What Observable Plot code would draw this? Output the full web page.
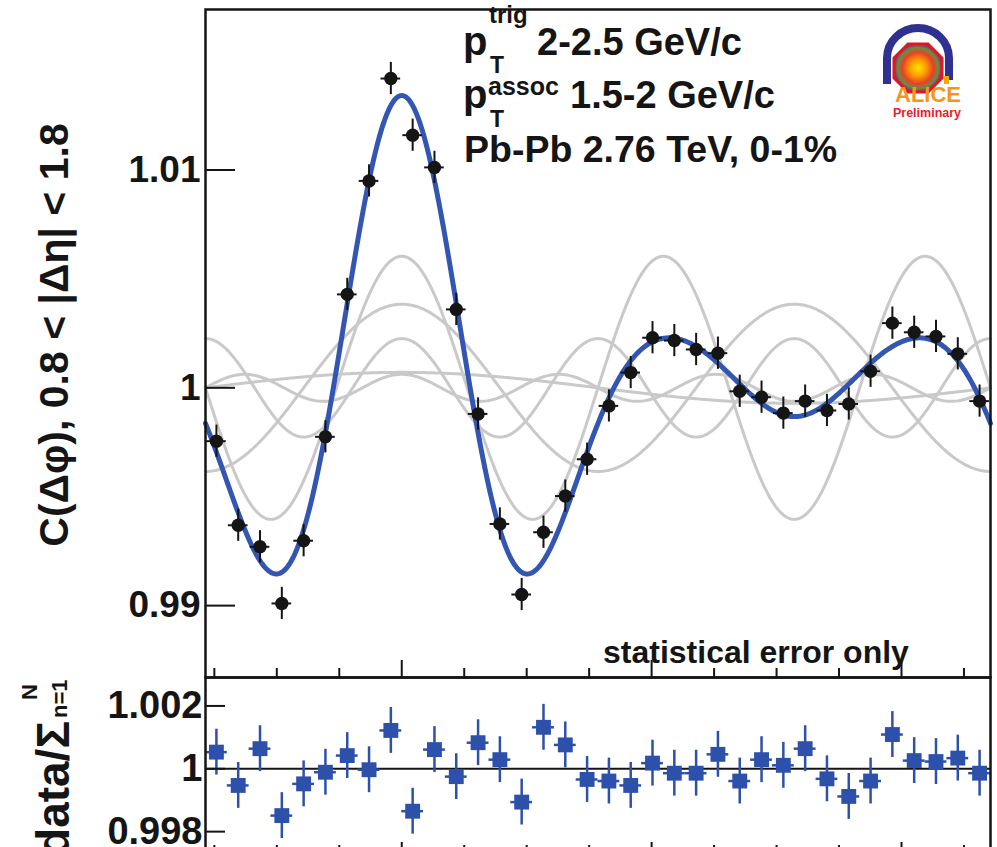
<!DOCTYPE html>
<html><head><meta charset="utf-8">
<script src="https://cdn.jsdelivr.net/npm/d3@7"></script>
<script src="https://cdn.jsdelivr.net/npm/@observablehq/plot@0.6"></script>
<style>
html,body{margin:0;padding:0;background:#fff;}
#wrap{position:relative;width:997px;height:847px;overflow:hidden;background:#fff;}
#wrap > svg{position:absolute;left:0;}
</style></head><body><div id="wrap"></div>
<script>
const FONT = "'Liberation Sans', Arial, Helvetica, sans-serif";

// Δφ bin centres (rad), 36 bins over [-π/2, 3π/2]
const phiBins = [-1.4835,-1.3090,-1.1345,-0.9599,-0.7854,-0.6109,-0.4363,-0.2618,-0.0873,0.0873,0.2618,0.4363,0.6109,0.7854,0.9599,1.1345,1.3090,1.4835,1.6581,1.8326,2.0071,2.1817,2.3562,2.5307,2.7053,2.8798,3.0543,3.2289,3.4034,3.5779,3.7525,3.9270,4.1015,4.2761,4.4506,4.6251];
// C(Δφ) data points
const dataC = [0.99755,0.99369,0.99270,0.99010,0.99298,0.99775,1.00429,1.00950,1.01420,1.01160,1.01012,1.00360,0.99880,0.99375,0.99051,0.99337,0.99503,0.99672,0.99917,1.00070,1.00230,1.00217,1.00176,1.00159,0.99984,0.99957,0.99884,0.99939,0.99896,0.99926,1.00076,1.00297,1.00255,1.00236,1.00156,0.99939];
const dataErr = 0.00074;
// ratio data / Σ harmonics
const ratio = [1.00053,0.99947,1.00064,0.99851,0.99952,0.99989,1.00042,0.99997,1.00122,0.99865,1.00061,0.99975,1.00083,1.00029,0.99894,1.00132,1.00076,0.99966,0.99961,0.99947,1.00018,0.99986,0.99986,1.00046,0.99961,1.00029,1.00011,1.00064,0.99968,0.99912,0.99961,1.00109,1.00026,1.00023,1.00034,0.99986];
const ratioErr = 0.00073;
const harmonicN = [1,2,3,4,5];
const harmonicAmp = [0.00071,0.00384,0.00604,0.00226,0.00062];
const fitBaseline = 0.99995;
// axes
const xDomain = [-Math.PI/2, 3*Math.PI/2];
const xTicksMajor = [0,2,4];
const xTicksMinor = [-1.5,-1,-0.5,0.5,1,1.5,2.5,3,3.5,4.5];
const yTopDomain = [0.98670, 1.01737];
const yTopTicks = [0.99,1,1.01];
const yTopTickLabels = ["0.99","1","1.01"];
const yBotDomain = [0.997304, 1.002905];
const yBotTicks = [0.998,1,1.002];
const yBotTickLabels = ["0.998","1","1.002"];

const binWidth = 2*Math.PI/phiBins.length;
const BLUE = "#3456b3";
const SQBLUE = "#2d50aa";
const GREY = "#c9c9c9";
const INK = "#151515";

const pts = phiBins.map((p,i)=>({phi:p, c:dataC[i], lo:dataC[i]-dataErr, hi:dataC[i]+dataErr, xl:p-0.45*binWidth, xr:p+0.45*binWidth}));
const rpts = phiBins.map((p,i)=>({phi:p, r:ratio[i], lo:ratio[i]-ratioErr, hi:ratio[i]+ratioErr, xl:p-0.5*binWidth, xr:p+0.5*binWidth}));

const phiFine = d3.range(0, 721).map(k => xDomain[0] + k*(xDomain[1]-xDomain[0])/720);
const greyCurves = harmonicN.flatMap((n,j)=>phiFine.map(p=>({n, phi:p, v:1 + harmonicAmp[j]*Math.cos(n*p)})));
const fitCurve = phiFine.map(p=>({phi:p, v: fitBaseline + harmonicN.reduce((s,n,j)=>s+harmonicAmp[j]*Math.cos(n*p),0)}));

const lookup = (ticks, labels) => d => labels[ticks.findIndex(t => Math.abs(t-d) < 1e-9)];

const common = {width:997, marginLeft:205, marginRight:7, style:{background:"transparent", overflow:"visible"}};

const topPlot = Plot.plot({
  ...common,
  height:680, marginTop:9, marginBottom:3,
  x:{domain:xDomain},
  y:{domain:yTopDomain},
  marks:[
    Plot.line(greyCurves, {x:"phi", y:"v", z:"n", stroke:GREY, strokeWidth:3}),
    Plot.line(fitCurve, {x:"phi", y:"v", stroke:BLUE, strokeWidth:5}),
    Plot.ruleX(pts, {x:"phi", y1:"lo", y2:"hi", stroke:INK, strokeWidth:2}),
    Plot.ruleY(pts, {y:"c", x1:"xl", x2:"xr", stroke:INK, strokeWidth:2}),
    Plot.dot(pts, {x:"phi", y:"c", r:6.7, fill:INK, stroke:"none"}),
    Plot.axisY({ticks:yTopTicks, tickSize:30, dx:30, fill:"none", stroke:INK, strokeWidth:2, label:null}),
    Plot.axisY({ticks:yTopTicks, tickSize:0, tickPadding:5, tickFormat:lookup(yTopTicks,yTopTickLabels), fontSize:37, fontWeight:"bold", fontFamily:FONT, fill:INK, label:null}),
    Plot.axisX({ticks:xTicksMajor, tickSize:17, dy:-17, fill:"none", stroke:INK, strokeWidth:2, label:null}),
    Plot.axisX({ticks:xTicksMinor, tickSize:9, dy:-9, fill:"none", stroke:INK, strokeWidth:2, label:null}),
    Plot.frame({stroke:INK, strokeWidth:2.5})
  ]
});
topPlot.style.top = "0px";

const botPlot = Plot.plot({
  ...common,
  height:182, marginTop:3, marginBottom:3,
  x:{domain:xDomain},
  y:{domain:yBotDomain},
  marks:[
    Plot.ruleY([1], {stroke:INK, strokeWidth:2}),
    Plot.ruleX(rpts, {x:"phi", y1:"lo", y2:"hi", stroke:SQBLUE, strokeWidth:2.5}),
    Plot.ruleY(rpts, {y:"r", x1:"xl", x2:"xr", stroke:SQBLUE, strokeWidth:2.5}),
    Plot.dot(rpts, {x:"phi", y:"r", r:8.4, symbol:"square", fill:SQBLUE, stroke:"none"}),
    Plot.axisY({ticks:yBotTicks, tickSize:20, dx:20, fill:"none", stroke:INK, strokeWidth:2, label:null}),
    Plot.axisY({ticks:yBotTicks, tickSize:0, tickPadding:3, tickFormat:lookup(yBotTicks,yBotTickLabels), fontSize:38, fontWeight:"bold", fontFamily:FONT, fill:INK, label:null}),
    Plot.axisX({ticks:xTicksMajor, tickSize:11, dy:-11, fill:"none", stroke:INK, strokeWidth:2, label:null}),
    Plot.axisX({ticks:xTicksMinor, tickSize:8, dy:-8, fill:"none", stroke:INK, strokeWidth:2, label:null}),
    Plot.frame({stroke:INK, strokeWidth:2.5})
  ]
});
botPlot.style.top = "674px";

const wrap = document.getElementById("wrap");
wrap.appendChild(topPlot);
wrap.appendChild(botPlot);

// ---- annotations overlay ----
const ov = d3.create("svg").attr("width",997).attr("height",847)
  .style("position","absolute").style("left","0").style("top","0")
  .attr("font-family",FONT).style("white-space","pre");

function txt(x,y,s,opt={}){
  const t = ov.append("text").attr("x",x).attr("y",y).text(s)
    .attr("font-size",opt.size||38).attr("font-weight",opt.weight||"normal")
    .attr("fill",opt.fill||INK).attr("text-anchor",opt.anchor||"start");
  if(opt.rotate) t.attr("transform",`rotate(${opt.rotate},${x},${y})`);
  if(opt.ls) t.attr("letter-spacing",opt.ls);
  return t;
}
// legend text
txt(463,55,"p",{size:40,weight:"bold"});
txt(489,23,"trig",{size:24,weight:"bold"});
txt(490,73,"T",{size:23,weight:"bold"});
txt(537,55,"2-2.5 GeV/c",{size:38,weight:"bold"});
txt(463,108,"p",{size:40,weight:"bold"});
txt(488,95,"assoc",{size:25,weight:"bold"});
txt(490,127,"T",{size:23,weight:"bold"});
txt(570,108,"1.5-2 GeV/c",{size:38,weight:"bold"});
txt(464,162,"Pb-Pb 2.76 TeV, 0-1%",{size:37.5,weight:"bold"});
txt(603,663,"statistical error only",{size:32,weight:"bold"});
// y titles
txt(68,335,"C(Δφ),  0.8 < |Δη| < 1.8",{size:41,weight:"bold",anchor:"middle",rotate:-90});
txt(69,721,"data/Σ",{size:46,weight:"bold",anchor:"end",rotate:-90});
txt(67,718,"n=1",{size:22,weight:"bold",rotate:-90});
txt(37,700,"N",{size:22,weight:"bold",rotate:-90});

// ALICE logo
const logo = ov.append("g");
const grad = ov.append("defs").append("radialGradient").attr("id","burst");
[["0%","#ffe600"],["35%","#ff9a00"],["65%","#e8402a"],["85%","#6a8f3a"],["100%","#8a2a8a"]].forEach(([o,c])=>grad.append("stop").attr("offset",o).attr("stop-color",c));
logo.append("path").attr("d","M887,84 L887,58 A31,30 0 0 1 949,58 L949,80").attr("fill","none").attr("stroke","#2e3192").attr("stroke-width",8);
const cx=918, cy=68, R=26;
const oct = d3.range(8).map(k=>{const a=Math.PI/8+k*Math.PI/4; return [cx+R*Math.cos(a), cy+R*Math.sin(a)];});
logo.append("polygon").attr("points",oct.map(p=>p.join(",")).join(" ")).attr("fill","url(#burst)").attr("stroke","#e3161d").attr("stroke-width",3);
logo.append("rect").attr("x",944).attr("y",76).attr("width",5).attr("height",8).attr("fill","#f5a800");
txt(928,102,"ALICE",{size:22,weight:"bold",anchor:"middle",fill:"#f7941d"});
txt(927,117,"Preliminary",{size:12.5,weight:"bold",anchor:"middle",fill:"#e8202a"});

wrap.appendChild(ov.node());
</script></body></html>
